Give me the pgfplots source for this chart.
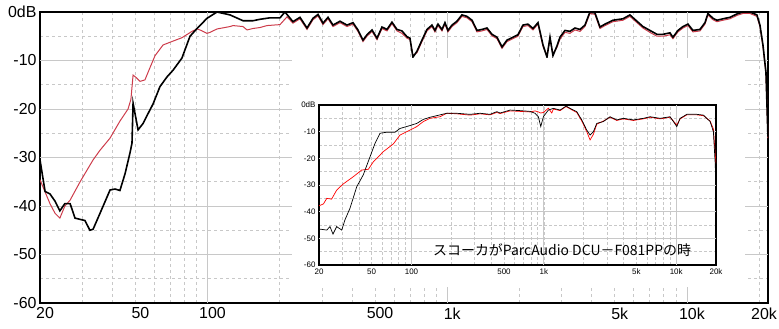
\documentclass[border=0pt]{standalone}
\usepackage{fontspec}
\setmainfont{Liberation Sans}
\newfontfamily\cjk{Noto Sans CJK JP}
\usepackage{pgfplots}
\pgfplotsset{compat=1.18}
\definecolor{gridgray}{RGB}{200,200,200}
\definecolor{mainred}{RGB}{205,60,75}
\begin{document}
\begin{tikzpicture}
\path[use as bounding box] (0,0) rectangle (779bp,329bp);
\begin{axis}[
  scale only axis, xmode=log,
  xmin=20, xmax=21800, ymin=-60, ymax=0,
  at={(40bp,26bp)}, anchor=south west,
  width=728bp, height=291bp,
  xtick={20,50,100,500,1000,5000,10000,20000},
  xticklabels={20,50,100,500,1k,5k,10k,20k},
  minor xtick={30,40,60,70,80,90,200,300,400,600,700,800,900,2000,3000,4000,6000,7000,8000,9000},
  ytick={-60,-50,-40,-30,-20,-10,0},
  yticklabels={-60,-50,-40,-30,-20,-10,0dB},
  minor ytick={-55,-45,-35,-25,-15,-5},
  extra x ticks={100,1000,10000}, extra x tick labels={,,},
  extra x tick style={grid=major, major grid style={gridgray, solid, line width=0.7bp}},
  extra y ticks={-50,-40,-30,-20,-10}, extra y tick labels={,,,,},
  extra y tick style={grid=major, major grid style={gridgray, solid, line width=0.7bp}},
  grid=both,
  major grid style={gridgray, dash pattern=on 3bp off 3bp, line width=0.6bp},
  minor grid style={gridgray, dash pattern=on 3bp off 3bp, line width=0.6bp},
  major tick length=0pt, minor tick length=0pt,
  axis line style={line width=2bp},
  ticklabel style={font=\fontsize{16}{16}\selectfont},
  xticklabel style={xshift=5bp, yshift=-1bp},
]
\addplot[mainred, line width=1bp] coordinates {
(20,-34.6)(22.0,-39.5)(23.1,-41.5)(24.2,-42.5)(25.4,-40)(26.7,-38.8)(29.4,-35)(33.3,-30.5)(35.6,-28.5)(39.2,-26)(43.1,-22.5)(46.6,-20)(47.9,-18)(48.9,-13)(50.3,-13.5)(52.3,-14.3)(54.8,-14)(57.5,-11.5)(60.4,-9)(65.2,-6.8)(71.8,-6)(78.2,-5.3)(86.1,-4)(90.4,-3.5)(93.0,-3.7)(99.5,-4.4)(102.4,-4.2)(109.5,-3.5)(124.1,-3.0)(127.7,-2.8)(140.6,-3.0)(146.1,-3.7)(154.8,-3.4)(165.6,-3.2)(177.0,-2.8)(200.6,-2.6)(214.6,-1.0)
(227.2,-2.3)(243,-1.4)(260,-3.6)(275.4,-1.6)(289,-0.8)(303.2,-2.6)(318.2,-1.4)(333.8,-3.0)(357,-2.2)(381.8,-3.0)(404.4,-2.5)(424.2,-4.0)(445.2,-6.1)(462.6,-5.0)(485.6,-4.0)(509.4,-5.7)(534.4,-3.4)(560.6,-3.9)(588.2,-2.4)(617.2,-3.9)(647.4,-4.4)(679.4,-5.4)(699.2,-5.7)(719.6,-9.0)(747.8,-8.4)(784.6,-6.1)(823.2,-3.9)(863.8,-3.0)(889,-4.1)(915,-2.8)(950.8,-3.9)(978.6,-2.5)(1007,-4.1)(1047,-3.0)(1098,-2.2)(1152,-0.9)(1209,-1.2)(1269,-2.0)(1331,-4.1)(1397,-3.9)(1465,-3.6)(1537,-4.9)(1613,-5.5)(1693,-7.5)(1776,-6.1)(1881,-5.5)(1973,-5.0)(2070,-3.0)(2172,-2.8)(2280,-3.7)(2392,-2.5)(2510,-7.1)(2608,-9.0)(2684,-5.5)(2762,-8.7)(2870,-7.3)(2954,-5.6)(3100,-4.2)(3252,-4.4)(3412,-3.7)(3580,-4.0)(3756,-3.0)(3940,-0.3)(4136,-0.5)(4338,-3.4)(4552,-2.8)(4916,-2.0)(5410,-1.7)(5786,-0.9)(6190,-2.2)(6556,-3.3)(7012,-4.2)(7500,-5.0)(7946,-5.0)(8500,-4.7)(8746,-5.5)(9178,-4.1)(9630,-3.3)(10104,-2.8)(10602,-4.1)(11338,-3.9)(11896,-2.5)(12244,-0.6)(12848,-1.6)(13352,-2.0)(14142,-1.7)(15126,-1.4)(16172,-0.7)(17132,-0.3)(18324,-0.3)(19598,-0.9)(20174,-3.0)(20764,-7.1)(21372,-12.7)(21578,-19.3)(21786,-26)
};
\addplot[black, line width=1.6bp] coordinates {
(20,-30.5)(21.0,-37)(22.0,-37.5)(23.1,-39)(24.2,-41)(25.4,-39.5)(26.7,-39.5)(28.0,-42.5)(30.8,-43)(32.3,-45)(33.3,-44.8)(35.6,-41.5)(39.2,-36.7)(41.1,-36.5)(43.1,-36.8)(45.3,-33.3)(47.5,-29)(48.4,-27)(48.9,-18.8)(51.3,-24.3)(53.8,-23)(56.4,-21)(59.2,-19)(63.3,-15.4)(67.7,-13.4)(71.8,-12)(78.2,-9.5)(84.5,-5)(90.4,-3.4)(99.5,-1.3)(109.5,0)(124.1,-0.6)(140.6,-1.8)(154.8,-1.8)(165.6,-1.5)(182.3,-1.2)(200.6,-1.2)(210.4,0)(227.2,-2)(243,-1.1)(260,-3.3)(275.4,-1.3)(289,-0.5)(303.2,-2.3)(318.2,-1.1)(333.8,-2.7)(357,-1.9)(381.8,-2.7)(404.4,-2.2)(424.2,-3.7)(445.2,-5.8)(462.6,-4.7)(485.6,-3.7)(509.4,-5.4)(534.4,-3.1)(560.6,-3.6)(588.2,-2.1)(617.2,-3.6)(647.4,-3.9)(679.4,-5.1)(699.2,-5.4)(719.6,-9.3)(747.8,-8.1)(784.6,-5.8)(823.2,-3.6)(863.8,-2.7)(889,-3.8)(915,-2.5)(950.8,-3.6)(978.6,-2.2)(1007,-3.8)(1047,-2.7)(1098,-1.9)(1152,-0.6)(1209,-0.9)(1269,-1.7)(1331,-3.8)(1397,-3.6)(1465,-3.3)(1537,-4.6)(1613,-5.2)(1693,-7.2)(1776,-5.8)(1881,-5.2)(1973,-4.7)(2070,-2.7)(2172,-2.5)(2280,-3.4)(2392,-2.2)(2510,-6.8)(2608,-9.3)(2684,-5.2)(2762,-9)(2870,-7)(2954,-5.2)(3100,-3.8)(3252,-4)(3412,-3.3)(3580,-3.6)(3756,-2.7)(3940,0)(4136,-0.2)(4338,-3.1)(4552,-2.5)(4916,-1.7)(5410,-1.4)(5786,-0.6)(6190,-1.9)(6556,-3)(7012,-3.8)(7500,-4.6)(7946,-4.6)(8500,-4.3)(8746,-5.2)(9178,-3.8)(9630,-3)(10104,-2.5)(10602,-3.8)(11338,-3.6)(11896,-2.2)(12244,-0.3)(12848,-1.3)(13352,-1.7)(14142,-1.4)(15126,-1.1)(16172,-0.4)(17132,0)(18324,0)(19598,-0.6)(20174,-2.7)(20764,-6.8)(21372,-12.4)(21578,-19)(21786,-25.7)
};
\end{axis}
\fill[white] (292bp,42bp) rectangle (745bp,271bp);
\begin{axis}[
  scale only axis, xmode=log,
  xmin=20, xmax=20000, ymin=-60, ymax=0,
  at={(319bp,64bp)}, anchor=south west,
  width=397bp, height=160bp,
  xtick={20,50,100,500,1000,5000,10000,20000},
  xticklabels={20,50,100,500,1k,5k,10k,20k},
  minor xtick={30,40,60,70,80,90,200,300,400,600,700,800,900,2000,3000,4000,6000,7000,8000,9000},
  ytick={-60,-50,-40,-30,-20,-10,0},
  yticklabels={-60,-50,-40,-30,-20,-10,0dB},
  minor ytick={-55,-45,-35,-25,-15,-5},
  extra x ticks={100,1000,10000}, extra x tick labels={,,},
  extra x tick style={grid=major, major grid style={gridgray, solid, line width=0.7bp}},
  extra y ticks={-50,-40,-30,-20,-10}, extra y tick labels={,,,,},
  extra y tick style={grid=major, major grid style={gridgray, solid, line width=0.7bp}},
  grid=both,
  major grid style={gridgray, dash pattern=on 2.5bp off 2.5bp, line width=0.6bp},
  minor grid style={gridgray, dash pattern=on 2.5bp off 2.5bp, line width=0.6bp},
  major tick length=0pt, minor tick length=0pt,
  axis line style={line width=1.2bp},
  ticklabel style={font=\fontsize{8}{8}\selectfont},
]
\addplot[red, line width=0.7bp] coordinates {
(20,-37.8)(21.6,-37.1)(22.9,-35)(24.9,-35.3)(27.2,-31.9)(30.5,-29.6)(36.3,-26.9)(42.0,-24.4)(47.2,-24.1)(51.5,-21.3)(61.2,-17.5)(72.9,-14.6)(81.9,-11.25)(97.5,-9.4)(109.6,-8.1)(122.9,-6.2)(138,-5.0)(164.3,-4.4)(184.6,-3.1)(219.7,-3.3)(277,-3.8)(330,-3.3)(392,-3.7)(441,-2.8)(467,-3.2)(556,-2.2)(661,-2.4)(787,-2.6)(858,-2.2)(909,-2.6)(948,-3.0)(992,-2.8)(1082,-1.2)(1148,-3.0)(1180,-1.5)(1327,-2.1)(1472,-0.6)(1626,-1.8)(1773,-2.8)(1935,-6.0)(2110,-10.0)(2236,-13.1)(2368,-11.0)(2512,-7.2)(2818,-6.0)(3166,-4.6)(3558,-5.8)(3992,-5.2)(4750,-5.8)(5652,-5.2)(6354,-4.6)(7562,-5.2)(9000,-4.6)(10108,-7.5)(10708,-5.2)(12032,-3.7)(14320,-3.7)(16064,-4.0)(18050,-6.0)(19114,-9)(19690,-18)(20000,-22)
};
\addplot[black, line width=0.7bp] coordinates {
(20,-46.5)(22.9,-46.9)(24.2,-45.6)(25.5,-48.4)(27.2,-45.6)(29.7,-46.9)(31.4,-43.1)(34.3,-38.7)(38.6,-30.6)(43.2,-26.2)(48.6,-19.4)(53.0,-14.4)(57.8,-10.6)(65.0,-10.2)(75.1,-10.2)(81.9,-8.8)(97.5,-7.7)(109.6,-6.9)(122.9,-5.4)(138,-4.6)(155.1,-4.0)(184.6,-3.1)(219.7,-3.1)(277,-3.5)(330,-3.1)(392,-3.5)(441,-2.5)(467,-3.0)(556,-1.9)(661,-2.1)(787,-2.4)(858,-3.1)(909,-4.4)(948,-8.1)(992,-4.4)(1082,-1.9)(1180,-1.25)(1327,-1.9)(1472,-0.4)(1626,-1.6)(1773,-2.5)(1935,-5.6)(2110,-9.4)(2236,-11.25)(2368,-10)(2512,-6.9)(2818,-6.2)(3166,-4.4)(3558,-5.6)(3992,-5.0)(4750,-5.6)(5652,-5.0)(6354,-4.4)(7562,-5.0)(9000,-4.4)(10108,-8.1)(10708,-5.0)(12032,-3.5)(14320,-3.5)(16064,-3.8)(18050,-6.2)(19114,-10)(19690,-21.3)(20000,-30)
};
\end{axis}
\node[font=\cjk\fontsize{14}{14}\selectfont, anchor=west, inner sep=0pt] at (433bp,79bp) {スコーカがParcAudio DCU－F081PPの時};
\end{tikzpicture}
\end{document}
